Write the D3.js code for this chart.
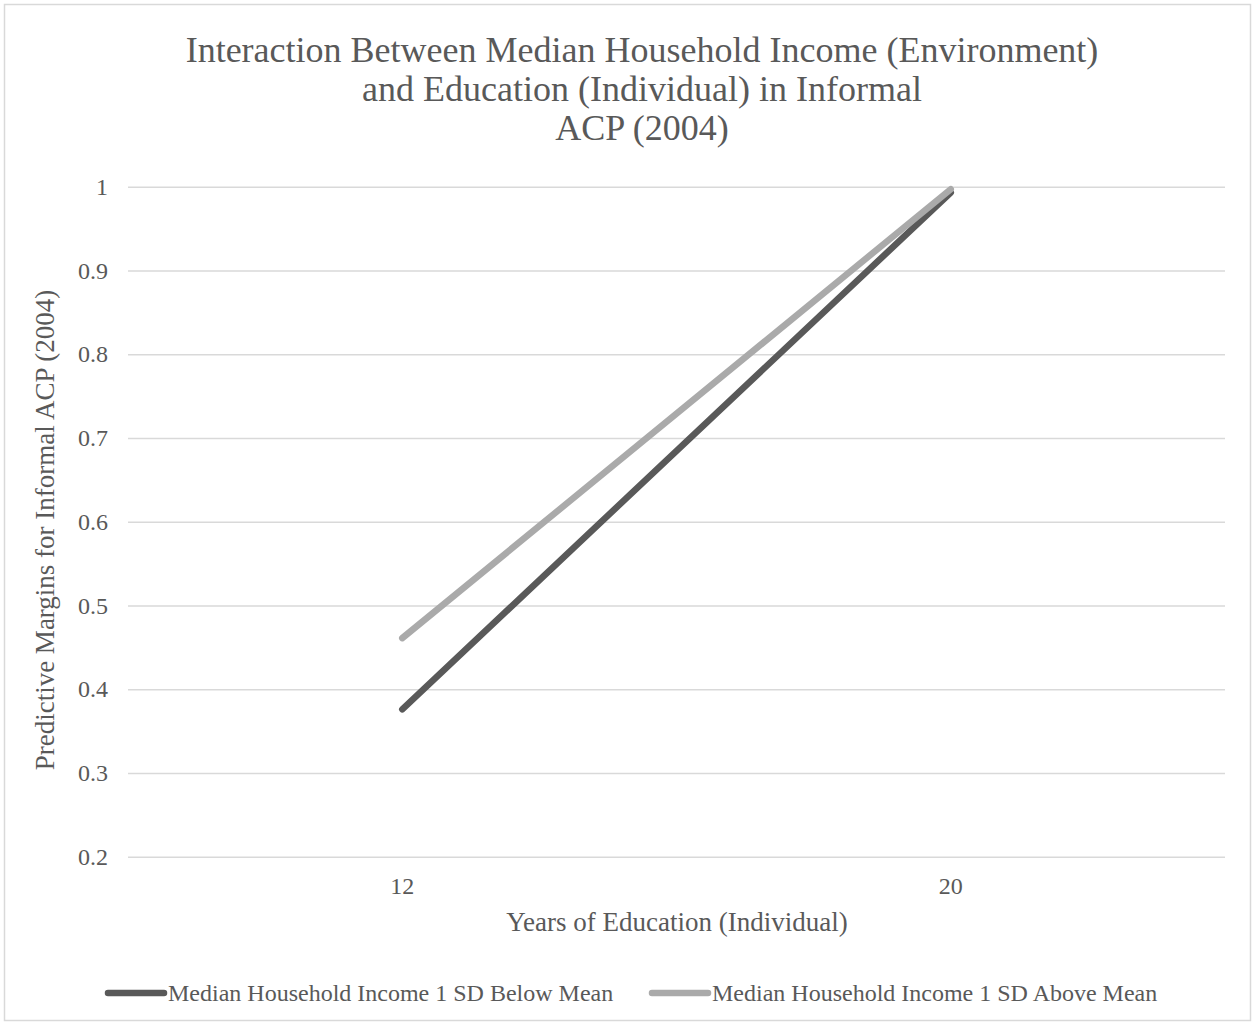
<!DOCTYPE html>
<html>
<head>
<meta charset="utf-8">
<script src="https://cdn.jsdelivr.net/npm/d3@7"></script>
<style>
  html, body { margin: 0; padding: 0; background: #fff; }
  text { font-family: "Liberation Serif", "Times New Roman", serif; fill: #595959; }
</style>
</head>
<body>
<svg id="chart" width="1255" height="1025"></svg>
<script>
// Categories on the x axis (years of education)
const categories = ["12", "20"];
// Predictive margins per series
const belowMean = [0.376, 0.993];
const aboveMean = [0.461, 0.997];
const seriesNames = [
  "Median Household Income 1 SD Below Mean",
  "Median Household Income 1 SD Above Mean"
];
const yTicks = [0.2, 0.3, 0.4, 0.5, 0.6, 0.7, 0.8, 0.9, 1];
const titleLines = [
  "Interaction Between Median Household Income (Environment)",
  "and Education (Individual) in Informal",
  "ACP (2004)"
];

const series = [
  { name: seriesNames[0], values: belowMean, color: "#595959" },
  { name: seriesNames[1], values: aboveMean, color: "#aaaaaa" }
];

const svg = d3.select("#chart");
const W = 1255, H = 1025;
const plot = { left: 128, right: 1225, top: 186.7, bottom: 856.7 };

// outer chart frame
svg.append("rect")
  .attr("x", 4.5).attr("y", 4.5)
  .attr("width", W - 9).attr("height", H - 9)
  .attr("fill", "#fff").attr("stroke", "#d9d9d9").attr("stroke-width", 1.5);

const x = d3.scaleBand().domain(categories).range([plot.left, plot.right]);
const y = d3.scaleLinear().domain([0.2, 1]).range([plot.bottom, plot.top]);

// title
svg.append("text")
  .attr("text-anchor", "middle")
  .style("font-size", "36px")
  .selectAll("tspan").data(titleLines).join("tspan")
  .attr("x", 642)
  .attr("y", (d, i) => 62 + i * 39)
  .text(d => d);

// gridlines + y tick labels
const yAxis = d3.axisLeft(y).tickValues(yTicks).tickSize(-(plot.right - plot.left))
  .tickPadding(20).tickFormat(d3.format("~g"));
const gy = svg.append("g").attr("transform", `translate(${plot.left},0)`).call(yAxis);
gy.select(".domain").remove();
gy.selectAll(".tick line").attr("stroke", "#d9d9d9").attr("stroke-width", 1.5);
gy.selectAll(".tick text").style("font-size", "24px").attr("fill", "#595959")
  .attr("font-family", null);

// x tick labels
const xAxis = d3.axisBottom(x).tickSize(0).tickPadding(20);
const gx = svg.append("g").attr("transform", `translate(0,${plot.bottom})`).call(xAxis);
gx.select(".domain").remove();
gx.selectAll(".tick text").style("font-size", "24px").attr("fill", "#595959")
  .attr("font-family", null);

// axis titles
svg.append("text")
  .attr("x", 677).attr("y", 931)
  .attr("text-anchor", "middle")
  .style("font-size", "27px")
  .text("Years of Education (Individual)");

svg.append("text")
  .attr("transform", "translate(54,530) rotate(-90)")
  .attr("text-anchor", "middle")
  .style("font-size", "27px")
  .text("Predictive Margins for Informal ACP (2004)");

// series lines
const line = d3.line()
  .x((d, i) => x(categories[i]) + x.bandwidth() / 2)
  .y(d => y(d));

svg.append("g").selectAll("path").data(series).join("path")
  .attr("d", d => line(d.values))
  .attr("fill", "none")
  .attr("stroke", d => d.color)
  .attr("stroke-width", 6.5)
  .attr("stroke-linecap", "round")
  .attr("stroke-linejoin", "round");

// legend
const legendX = [108, 652];
const lg = svg.append("g").selectAll("g").data(series).join("g")
  .attr("transform", (d, i) => `translate(${legendX[i]},993)`);
lg.append("line")
  .attr("x1", 0).attr("x2", 56).attr("y1", 0).attr("y2", 0)
  .attr("stroke", d => d.color).attr("stroke-width", 6.5)
  .attr("stroke-linecap", "round");
lg.append("text")
  .attr("x", 60).attr("y", 8)
  .style("font-size", "24px")
  .text(d => d.name);
</script>
</body>
</html>
